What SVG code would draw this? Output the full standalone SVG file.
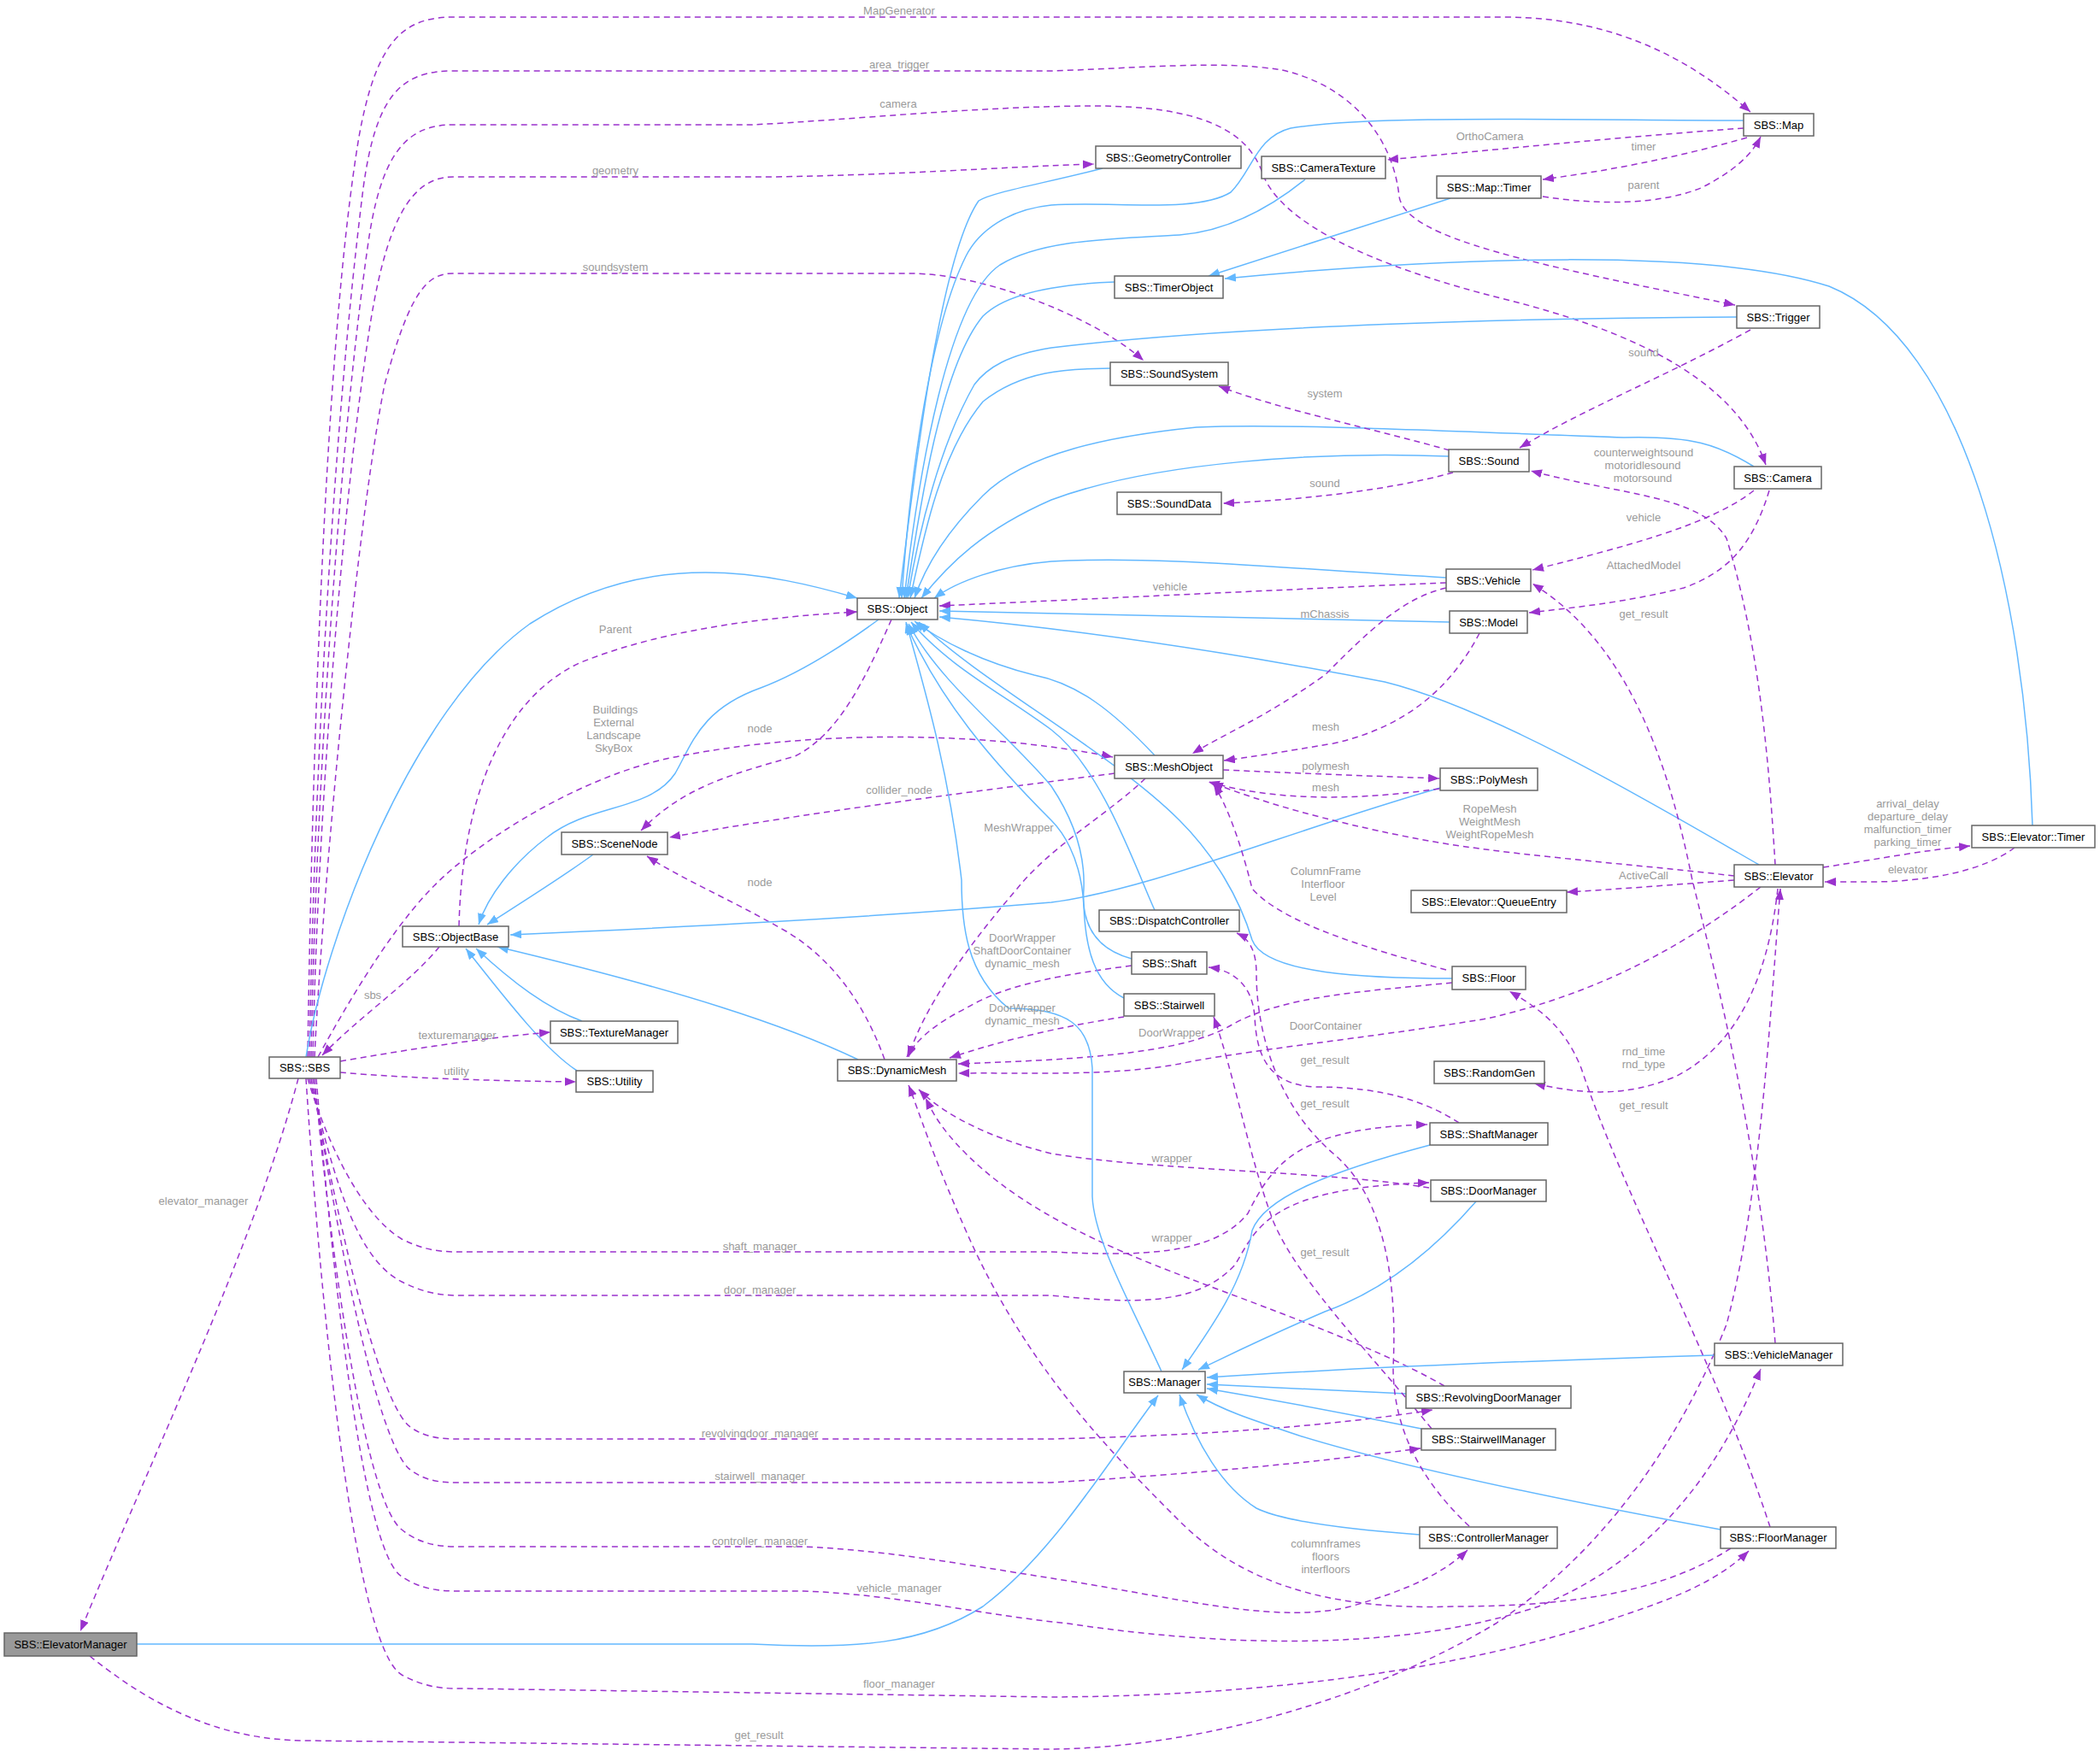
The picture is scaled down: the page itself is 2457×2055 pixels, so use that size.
<svg xmlns="http://www.w3.org/2000/svg" width="2457" height="2055" viewBox="0 0 2457 2055">
<style>
.n rect{fill:#fff;stroke:#666;stroke-width:1.5}
.n text{font-family:"Liberation Sans",Arial,sans-serif;font-size:13px;text-anchor:middle;fill:#000}
.hl rect{fill:#999}
.b{fill:none;stroke:#63b8ff;stroke-width:1.5;marker-end:url(#ab)}
.d{fill:none;stroke:#9a32cd;stroke-width:1.5;stroke-dasharray:7,5;marker-end:url(#ap)}
.l{font-family:"Liberation Sans",Arial,sans-serif;font-size:13px;text-anchor:middle;fill:#9a9a9a}
</style>
<defs>
<marker id="ab" markerUnits="userSpaceOnUse" markerWidth="14" markerHeight="11" refX="13" refY="5" orient="auto"><path d="M0,0 L13,5 L0,10 z" fill="#63b8ff"/></marker>
<marker id="ap" markerUnits="userSpaceOnUse" markerWidth="14" markerHeight="11" refX="13" refY="5" orient="auto"><path d="M0,0 L13,5 L0,10 z" fill="#9a32cd"/></marker>
</defs>
<rect width="2457" height="2055" fill="#fff"/>
<g id="connectors">
<!-- SBS fan top -->
<path class="d" d="M360,1237 C365,900 380,400 420,160 C440,50 470,20 530,20 L1760,20 C1900,20 1990,80 2048,131"/>
<path class="d" d="M362,1237 C368,900 390,500 425,220 C440,110 470,83 530,83 L1230,83 C1330,80 1430,70 1500,82 C1580,100 1630,160 1637,230 C1645,280 1800,310 2030,357"/>
<path class="d" d="M364,1237 C370,900 400,500 430,290 C445,180 475,146 530,146 L880,146 C1000,140 1150,124 1280,124 C1400,124 1460,150 1478,205 C1500,260 1600,310 1760,350 C1900,385 2030,440 2066,544"/>
<path class="d" d="M366,1237 C372,950 400,600 430,400 C450,260 480,207 530,207 L900,207 C1050,205 1180,195 1280,192"/>
<path class="d" d="M368,1237 C380,1000 420,600 450,450 C480,340 500,320 530,320 L1065,320 C1150,320 1280,370 1338,422"/>
<path class="b" d="M358,1237 C380,1100 480,830 620,730 C760,640 900,670 1003,700"/>
<path class="d" d="M537,1084 C540,950 580,820 680,775 C780,735 900,722 1003,716"/>
<path class="b" d="M1028,725 C980,760 930,790 890,805 C820,830 810,870 790,905 C760,950 690,940 640,980 C600,1010 570,1050 560,1082"/>
<path class="d" d="M1043,725 C1010,800 980,860 930,885 C860,905 800,920 750,972"/>
<path class="d" d="M372,1237 C420,1150 470,1070 520,1025 C580,970 700,900 800,884 C950,855 1150,855 1302,886"/>
<path class="d" d="M1304,905 C1150,925 950,950 783,980"/>
<path class="b" d="M694,1000 C660,1025 620,1050 570,1082"/>
<path class="d" d="M1035,1240 C1010,1170 970,1120 920,1090 C850,1050 800,1030 757,1002"/>
<path class="b" d="M1004,1240 C920,1200 800,1160 582,1108"/>
<path class="b" d="M1685,922 C1500,975 1350,1040 1230,1056 C1000,1075 800,1085 597,1094"/>
<path class="b" d="M681,1195 C640,1180 600,1150 557,1110"/>
<path class="b" d="M675,1253 C640,1230 600,1180 545,1110"/>
<path class="d" d="M514,1108 C480,1150 420,1190 377,1235"/>
<path class="d" d="M398,1242 C480,1228 560,1215 644,1208"/>
<path class="d" d="M398,1255 C480,1262 580,1265 674,1266"/>
<path class="d" d="M349,1262 C300,1450 180,1700 94,1909"/>
<path class="b" d="M160,1924 L880,1924 C1000,1930 1080,1925 1150,1880 C1230,1820 1290,1720 1355,1633"/>
<path class="d" d="M105,1938 C170,1990 250,2037 360,2037 L1230,2047 C1400,2045 1600,1990 1750,1900 C1900,1800 1980,1650 2020,1550 C2060,1400 2070,1200 2083,1040"/>
<!-- SBS fan bottom -->
<path class="d" d="M360,1262 C380,1330 420,1420 470,1450 C500,1465 520,1465 540,1465 L1230,1465 C1330,1470 1420,1470 1460,1420 C1490,1360 1520,1320 1670,1316"/>
<path class="d" d="M362,1262 C385,1350 410,1470 470,1500 C500,1515 520,1516 540,1516 L1230,1516 C1320,1525 1400,1530 1445,1480 C1470,1440 1480,1390 1672,1384"/>
<path class="d" d="M364,1262 C390,1400 440,1640 480,1670 C500,1684 520,1684 540,1684 L1230,1684 C1400,1680 1550,1670 1676,1650"/>
<path class="d" d="M366,1262 C390,1420 440,1690 480,1720 C500,1735 520,1735 540,1735 L1230,1735 C1400,1725 1550,1710 1662,1695"/>
<path class="d" d="M368,1262 C390,1500 430,1760 470,1790 C495,1810 520,1810 540,1810 L940,1810 C1050,1815 1150,1835 1250,1850 C1400,1875 1500,1900 1580,1880 C1650,1860 1690,1840 1717,1814"/>
<path class="d" d="M370,1262 C395,1560 430,1820 470,1845 C495,1862 520,1862 540,1862 L940,1862 C1050,1866 1150,1890 1250,1900 C1450,1930 1650,1930 1800,1880 C1950,1820 2020,1700 2060,1602"/>
<path class="d" d="M358,1262 C380,1600 420,1930 470,1960 C500,1976 520,1976 540,1976 L1230,1986 C1450,1985 1700,1960 1900,1890 C1960,1870 2010,1850 2046,1815"/>
<!-- DynamicMesh incoming -->
<path class="d" d="M2025,1812 C1950,1860 1850,1880 1700,1880 C1550,1885 1450,1850 1380,1780 C1300,1700 1200,1600 1130,1440 C1090,1350 1075,1300 1063,1270"/>
<path class="d" d="M1690,1622 C1600,1570 1450,1520 1350,1480 C1250,1440 1180,1400 1130,1350 C1100,1320 1090,1300 1083,1285"/>
<path class="d" d="M1672,1390 C1550,1370 1350,1370 1230,1350 C1170,1335 1110,1310 1075,1275"/>
<path class="d" d="M1699,1150 C1600,1160 1500,1165 1440,1200 C1380,1235 1250,1240 1121,1245"/>
<path class="d" d="M2060,1038 C1980,1100 1880,1160 1740,1192 C1600,1215 1450,1230 1380,1245 C1300,1260 1200,1255 1121,1256"/>
<path class="d" d="M1324,1130 C1250,1140 1180,1150 1130,1180 C1090,1200 1070,1220 1061,1237"/>
<path class="d" d="M1315,1190 C1250,1200 1180,1215 1111,1238"/>
<path class="d" d="M1340,911 C1300,950 1230,990 1190,1040 C1130,1110 1080,1180 1063,1237"/>
<!-- Object inheritance -->
<path class="b" d="M1290,197 C1220,215 1160,225 1145,235 C1100,300 1070,550 1052,700"/>
<path class="b" d="M2040,141 C1800,140 1600,135 1510,150 C1470,160 1465,200 1440,225 C1400,250 1300,235 1230,240 C1180,245 1145,270 1130,300 C1090,380 1065,550 1055,700"/>
<path class="b" d="M1527,210 C1490,240 1440,270 1380,275 C1300,280 1220,280 1170,310 C1110,350 1075,550 1058,700"/>
<path class="b" d="M1304,330 C1250,332 1180,340 1150,370 C1100,430 1075,600 1060,700"/>
<path class="b" d="M2032,371 C1800,372 1450,380 1230,407 C1180,415 1155,430 1140,450 C1100,520 1075,620 1062,700"/>
<path class="b" d="M1299,431 C1260,432 1200,430 1150,470 C1100,530 1080,630 1065,700"/>
<path class="b" d="M2052,546 C2010,520 1980,510 1900,512 C1700,505 1500,495 1400,500 C1300,510 1200,530 1150,580 C1100,630 1080,670 1070,700"/>
<path class="b" d="M1695,534 C1550,528 1350,540 1230,585 C1150,620 1110,660 1078,700"/>
<path class="b" d="M1692,676 C1500,665 1350,650 1230,657 C1170,662 1120,680 1093,700"/>
<path class="d" d="M1692,682 C1500,690 1300,700 1099,709"/>
<path class="b" d="M1696,728 C1500,725 1300,720 1099,715"/>
<path class="b" d="M2058,1012 C1950,950 1750,830 1620,798 C1500,775 1300,740 1099,722"/>
<path class="b" d="M1351,884 C1300,830 1260,800 1210,790 C1150,775 1100,750 1070,727"/>
<path class="b" d="M1351,1065 C1330,1020 1290,900 1230,854 C1170,810 1110,780 1066,728"/>
<path class="b" d="M1324,1122 C1280,1110 1265,1080 1268,1040 C1270,990 1250,950 1230,920 C1180,860 1100,800 1063,730"/>
<path class="b" d="M1315,1168 C1280,1150 1270,1110 1268,1060 C1265,1000 1240,970 1230,960 C1160,890 1100,820 1060,730"/>
<path class="b" d="M1699,1145 C1600,1145 1480,1140 1465,1100 C1450,1050 1420,1000 1380,960 C1300,880 1150,800 1075,728"/>
<path class="b" d="M1359,1605 C1320,1520 1280,1450 1278,1400 L1278,1250 C1275,1200 1250,1180 1180,1180 C1130,1140 1125,1080 1125,1030 C1110,900 1080,800 1060,728"/>
<!-- TimerObject -->
<path class="b" d="M1697,232 L1414,323"/>
<path class="b" d="M2378,966 C2370,700 2300,400 2140,335 C2000,290 1700,300 1433,326"/>
<!-- Manager -->
<path class="b" d="M1673,1340 C1560,1370 1480,1400 1465,1440 C1455,1500 1420,1550 1383,1603"/>
<path class="b" d="M1727,1406 C1680,1460 1620,1510 1550,1535 C1480,1565 1440,1585 1402,1603"/>
<path class="b" d="M2006,1586 C1800,1592 1600,1600 1412,1612"/>
<path class="b" d="M1645,1631 L1412,1620"/>
<path class="b" d="M1663,1672 C1580,1655 1500,1640 1412,1625"/>
<path class="b" d="M1661,1796 C1580,1790 1500,1780 1470,1765 C1430,1740 1400,1690 1380,1632"/>
<path class="b" d="M2013,1790 C1850,1760 1650,1720 1520,1680 C1460,1660 1430,1650 1400,1632"/>
<!-- right side dashed -->
<path class="d" d="M2040,150 C1900,160 1750,175 1623,187"/>
<path class="d" d="M2044,161 C1960,185 1880,200 1805,210"/>
<path class="d" d="M1805,230 C1870,240 1940,240 1990,220 C2030,200 2050,180 2060,160"/>
<path class="d" d="M2048,386 C1950,440 1850,480 1778,524"/>
<path class="d" d="M1696,527 C1600,500 1500,480 1426,452"/>
<path class="d" d="M1700,553 C1620,575 1520,585 1431,589"/>
<path class="d" d="M2077,1012 C2070,900 2060,760 2020,630 C1990,580 1900,580 1791,551"/>
<path class="d" d="M2052,574 C2000,615 1900,640 1793,667"/>
<path class="d" d="M2070,574 C2050,640 2020,670 1970,688 C1900,705 1850,710 1789,717"/>
<path class="d" d="M2077,1572 C2060,1350 2010,1150 1980,1030 C1950,880 1900,750 1793,683"/>
<path class="d" d="M1692,688 C1640,700 1600,740 1550,790 C1480,840 1430,860 1395,882"/>
<path class="d" d="M1731,741 C1700,800 1650,850 1560,870 C1500,880 1470,885 1432,890"/>
<path class="d" d="M1431,901 C1520,905 1600,908 1684,911"/>
<path class="d" d="M1684,923 C1600,935 1500,940 1414,915"/>
<path class="d" d="M2029,1025 C1900,1010 1750,1000 1650,980 C1550,960 1480,940 1418,916"/>
<path class="d" d="M1692,1135 C1600,1110 1500,1080 1465,1040 C1455,1000 1440,950 1420,918"/>
<path class="d" d="M2133,1015 C2200,1005 2250,995 2305,990"/>
<path class="d" d="M2357,992 C2320,1020 2250,1033 2180,1032 L2135,1032"/>
<path class="d" d="M2029,1030 C1950,1036 1900,1040 1833,1044"/>
<path class="d" d="M2080,1040 C2070,1130 2040,1220 1960,1260 C1900,1285 1850,1280 1795,1268"/>
<path class="d" d="M2071,1787 C2010,1600 1900,1400 1850,1250 C1830,1200 1800,1180 1766,1160"/>
<path class="d" d="M1707,1314 C1670,1290 1620,1272 1540,1272 C1480,1270 1470,1230 1468,1190 C1465,1150 1440,1135 1414,1132"/>
<path class="d" d="M1675,1672 C1600,1580 1520,1500 1490,1430 C1460,1350 1445,1260 1420,1190"/>
<path class="d" d="M1719,1786 C1670,1740 1630,1680 1630,1600 C1635,1500 1620,1400 1560,1350 C1490,1290 1470,1200 1470,1140 C1470,1110 1460,1098 1447,1092"/>
</g>
<g id="labels">
<text class="l" x="1052" y="17">MapGenerator</text>
<text class="l" x="1052" y="80">area_trigger</text>
<text class="l" x="1051" y="126">camera</text>
<text class="l" x="720" y="204">geometry</text>
<text class="l" x="720" y="317">soundsystem</text>
<text class="l" x="720" y="741">Parent</text>
<text class="l" x="720" y="835">Buildings</text>
<text class="l" x="718" y="850">External</text>
<text class="l" x="718" y="865">Landscape</text>
<text class="l" x="718" y="880">SkyBox</text>
<text class="l" x="889" y="857">node</text>
<text class="l" x="1052" y="929">collider_node</text>
<text class="l" x="1192" y="973">MeshWrapper</text>
<text class="l" x="889" y="1037">node</text>
<text class="l" x="1196" y="1102">DoorWrapper</text>
<text class="l" x="1196" y="1117">ShaftDoorContainer</text>
<text class="l" x="1196" y="1132">dynamic_mesh</text>
<text class="l" x="1196" y="1184">DoorWrapper</text>
<text class="l" x="1196" y="1199">dynamic_mesh</text>
<text class="l" x="436" y="1169">sbs</text>
<text class="l" x="535" y="1216">texturemanager</text>
<text class="l" x="534" y="1258">utility</text>
<text class="l" x="238" y="1410">elevator_manager</text>
<text class="l" x="889" y="1463">shaft_manager</text>
<text class="l" x="889" y="1514">door_manager</text>
<text class="l" x="889" y="1682">revolvingdoor_manager</text>
<text class="l" x="889" y="1732">stairwell_manager</text>
<text class="l" x="889" y="1808">controller_manager</text>
<text class="l" x="1052" y="1863">vehicle_manager</text>
<text class="l" x="1052" y="1975">floor_manager</text>
<text class="l" x="888" y="2035">get_result</text>
<text class="l" x="1743" y="164">OrthoCamera</text>
<text class="l" x="1923" y="176">timer</text>
<text class="l" x="1923" y="221">parent</text>
<text class="l" x="1923" y="417">sound</text>
<text class="l" x="1550" y="465">system</text>
<text class="l" x="1923" y="534">counterweightsound</text>
<text class="l" x="1922" y="549">motoridlesound</text>
<text class="l" x="1922" y="564">motorsound</text>
<text class="l" x="1550" y="570">sound</text>
<text class="l" x="1923" y="610">vehicle</text>
<text class="l" x="1369" y="691">vehicle</text>
<text class="l" x="1923" y="666">AttachedModel</text>
<text class="l" x="1550" y="723">mChassis</text>
<text class="l" x="1923" y="723">get_result</text>
<text class="l" x="1551" y="855">mesh</text>
<text class="l" x="1551" y="901">polymesh</text>
<text class="l" x="1551" y="926">mesh</text>
<text class="l" x="1743" y="951">RopeMesh</text>
<text class="l" x="1743" y="966">WeightMesh</text>
<text class="l" x="1743" y="981">WeightRopeMesh</text>
<text class="l" x="2232" y="945">arrival_delay</text>
<text class="l" x="2232" y="960">departure_delay</text>
<text class="l" x="2232" y="975">malfunction_timer</text>
<text class="l" x="2232" y="990">parking_timer</text>
<text class="l" x="2232" y="1022">elevator</text>
<text class="l" x="1551" y="1024">ColumnFrame</text>
<text class="l" x="1548" y="1039">Interfloor</text>
<text class="l" x="1548" y="1054">Level</text>
<text class="l" x="1923" y="1029">ActiveCall</text>
<text class="l" x="1371" y="1213">DoorWrapper</text>
<text class="l" x="1551" y="1205">DoorContainer</text>
<text class="l" x="1550" y="1245">get_result</text>
<text class="l" x="1550" y="1296">get_result</text>
<text class="l" x="1923" y="1235">rnd_time</text>
<text class="l" x="1923" y="1250">rnd_type</text>
<text class="l" x="1923" y="1298">get_result</text>
<text class="l" x="1371" y="1360">wrapper</text>
<text class="l" x="1371" y="1453">wrapper</text>
<text class="l" x="1550" y="1470">get_result</text>
<text class="l" x="1551" y="1811">columnframes</text>
<text class="l" x="1551" y="1826">floors</text>
<text class="l" x="1551" y="1841">interfloors</text>
</g>
<g id="SBS_Map" class="n"><rect x="2040" y="133" width="82" height="26"/><text x="2081" y="150.5">SBS::Map</text></g>
<g id="SBS_GeometryController" class="n"><rect x="1282" y="171" width="170" height="26"/><text x="1367" y="188.5">SBS::GeometryController</text></g>
<g id="SBS_CameraTexture" class="n"><rect x="1476" y="183" width="145" height="26"/><text x="1548.5" y="200.5">SBS::CameraTexture</text></g>
<g id="SBS_Map_Timer" class="n"><rect x="1681" y="206" width="122" height="26"/><text x="1742" y="223.5">SBS::Map::Timer</text></g>
<g id="SBS_TimerObject" class="n"><rect x="1304" y="323" width="127" height="26"/><text x="1367.5" y="340.5">SBS::TimerObject</text></g>
<g id="SBS_Trigger" class="n"><rect x="2032" y="358" width="97" height="26"/><text x="2080.5" y="375.5">SBS::Trigger</text></g>
<g id="SBS_SoundSystem" class="n"><rect x="1299" y="424" width="138" height="27"/><text x="1368" y="442">SBS::SoundSystem</text></g>
<g id="SBS_Sound" class="n"><rect x="1695" y="526" width="94" height="26"/><text x="1742" y="543.5">SBS::Sound</text></g>
<g id="SBS_Camera" class="n"><rect x="2029" y="546" width="102" height="26"/><text x="2080" y="563.5">SBS::Camera</text></g>
<g id="SBS_SoundData" class="n"><rect x="1307" y="576" width="122" height="26"/><text x="1368" y="593.5">SBS::SoundData</text></g>
<g id="SBS_Vehicle" class="n"><rect x="1692" y="666" width="99" height="26"/><text x="1741.5" y="683.5">SBS::Vehicle</text></g>
<g id="SBS_Object" class="n"><rect x="1003" y="700" width="94" height="25"/><text x="1050" y="717">SBS::Object</text></g>
<g id="SBS_Model" class="n"><rect x="1696" y="715" width="91" height="26"/><text x="1741.5" y="732.5">SBS::Model</text></g>
<g id="SBS_MeshObject" class="n"><rect x="1304" y="884" width="127" height="27"/><text x="1367.5" y="902">SBS::MeshObject</text></g>
<g id="SBS_PolyMesh" class="n"><rect x="1685" y="899" width="114" height="26"/><text x="1742" y="916.5">SBS::PolyMesh</text></g>
<g id="SBS_SceneNode" class="n"><rect x="657" y="974" width="124" height="26"/><text x="719" y="991.5">SBS::SceneNode</text></g>
<g id="SBS_Elevator_Timer" class="n"><rect x="2307" y="966" width="144" height="26"/><text x="2379" y="983.5">SBS::Elevator::Timer</text></g>
<g id="SBS_Elevator" class="n"><rect x="2029" y="1012" width="104" height="26"/><text x="2081" y="1029.5">SBS::Elevator</text></g>
<g id="SBS_Elevator_QueueEntry" class="n"><rect x="1651" y="1042" width="182" height="26"/><text x="1742" y="1059.5">SBS::Elevator::QueueEntry</text></g>
<g id="SBS_DispatchController" class="n"><rect x="1286" y="1065" width="164" height="25"/><text x="1368" y="1082">SBS::DispatchController</text></g>
<g id="SBS_ObjectBase" class="n"><rect x="471" y="1084" width="124" height="24"/><text x="533" y="1100.5">SBS::ObjectBase</text></g>
<g id="SBS_Shaft" class="n"><rect x="1324" y="1114" width="88" height="26"/><text x="1368" y="1131.5">SBS::Shaft</text></g>
<g id="SBS_Floor" class="n"><rect x="1699" y="1131" width="86" height="27"/><text x="1742" y="1149">SBS::Floor</text></g>
<g id="SBS_Stairwell" class="n"><rect x="1315" y="1163" width="106" height="26"/><text x="1368" y="1180.5">SBS::Stairwell</text></g>
<g id="SBS_TextureManager" class="n"><rect x="644" y="1195" width="149" height="26"/><text x="718.5" y="1212.5">SBS::TextureManager</text></g>
<g id="SBS_SBS" class="n"><rect x="315" y="1237" width="83" height="25"/><text x="356.5" y="1254">SBS::SBS</text></g>
<g id="SBS_DynamicMesh" class="n"><rect x="980" y="1240" width="139" height="25"/><text x="1049.5" y="1257">SBS::DynamicMesh</text></g>
<g id="SBS_RandomGen" class="n"><rect x="1678" y="1242" width="129" height="26"/><text x="1742.5" y="1259.5">SBS::RandomGen</text></g>
<g id="SBS_Utility" class="n"><rect x="674" y="1253" width="90" height="25"/><text x="719" y="1270">SBS::Utility</text></g>
<g id="SBS_ShaftManager" class="n"><rect x="1673" y="1314" width="138" height="26"/><text x="1742" y="1331.5">SBS::ShaftManager</text></g>
<g id="SBS_DoorManager" class="n"><rect x="1674" y="1381" width="135" height="25"/><text x="1741.5" y="1398">SBS::DoorManager</text></g>
<g id="SBS_VehicleManager" class="n"><rect x="2006" y="1572" width="150" height="26"/><text x="2081" y="1589.5">SBS::VehicleManager</text></g>
<g id="SBS_Manager" class="n"><rect x="1315" y="1605" width="95" height="25"/><text x="1362.5" y="1622">SBS::Manager</text></g>
<g id="SBS_RevolvingDoorManager" class="n"><rect x="1645" y="1622" width="193" height="26"/><text x="1741.5" y="1639.5">SBS::RevolvingDoorManager</text></g>
<g id="SBS_StairwellManager" class="n"><rect x="1663" y="1672" width="157" height="25"/><text x="1741.5" y="1689">SBS::StairwellManager</text></g>
<g id="SBS_ControllerManager" class="n"><rect x="1661" y="1787" width="161" height="25"/><text x="1741.5" y="1804">SBS::ControllerManager</text></g>
<g id="SBS_FloorManager" class="n"><rect x="2013" y="1787" width="135" height="25"/><text x="2080.5" y="1804">SBS::FloorManager</text></g>
<g id="SBS_ElevatorManager" class="n hl"><rect x="5" y="1911" width="155" height="27"/><text x="82.5" y="1929">SBS::ElevatorManager</text></g>
</svg>
